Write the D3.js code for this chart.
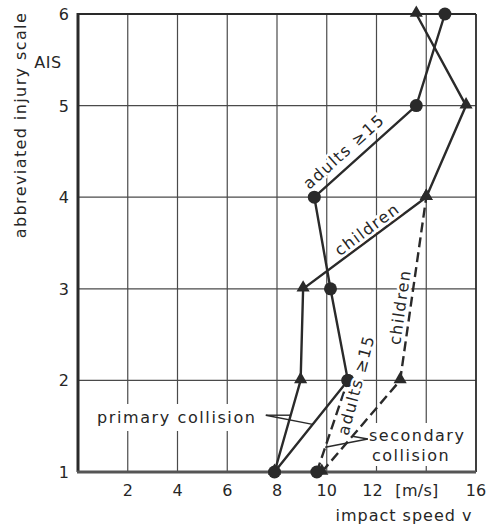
<!DOCTYPE html>
<html>
<head>
<meta charset="utf-8">
<script src="https://cdn.jsdelivr.net/npm/d3@7"></script>
<style>
  body { margin: 0; background: #fff; }
  svg text { font-family: "DejaVu Sans", sans-serif; fill: #262626; }
</style>
</head>
<body>
<svg id="chart" width="488" height="530"></svg>
<script>
// AIS levels on the y axis, impact speed [m/s] on the x axis
var aisLevels = [1, 2, 3, 4, 5, 6];
var adultsPrimary = [7.9, 10.85, 10.15, 9.5, 13.6, 14.75];
var childrenPrimary = [7.9, 8.95, 9.05, 14.0, 15.6, 13.6];
var adultsSecondaryAis = [1, 2];
var adultsSecondary = [9.6, 10.85];
var childrenSecondaryAis = [1, 2, 4];
var childrenSecondary = [9.8, 12.95, 14.0];
var xTicks = [2, 4, 6, 8, 10, 12, 16];
var yTicks = [1, 2, 3, 4, 5, 6];
var xGrid = [2, 4, 6, 8, 10, 12, 14];
var yGrid = [2, 3, 4, 5];

var ink = "#2a2a2a";
var svg = d3.select("#chart");

var x = d3.scaleLinear().domain([0, 16]).range([78, 476]);
var y = d3.scaleLinear().domain([1, 6]).range([472, 14]);

function zip(vs, as) {
	return vs.map(function(v, i) { return {v: v, ais: as[i]}; });
}
// point on a polyline at a given ais level
function at(series, ais) {
	for (var i = 0; i < series.length - 1; i++) {
		var a = series[i], b = series[i + 1];
		if (ais >= a.ais && ais <= b.ais) {
			var t = (ais - a.ais) / (b.ais - a.ais);
			return {v: a.v + t * (b.v - a.v), ais: ais};
		}
	}
	return series[0];
}

var ap = zip(adultsPrimary, aisLevels);
var cp = zip(childrenPrimary, aisLevels);
var as = zip(adultsSecondary, adultsSecondaryAis);
var cs = zip(childrenSecondary, childrenSecondaryAis);

// grid
svg.selectAll("line.vgrid").data(xGrid).enter().append("line")
	.attr("x1", function(d) { return x(d); }).attr("x2", function(d) { return x(d); })
	.attr("y1", y(6)).attr("y2", y(1))
	.style("stroke", "#4a4a4a").style("stroke-width", 1.2);
svg.selectAll("line.hgrid").data(yGrid).enter().append("line")
	.attr("y1", function(d) { return y(d); }).attr("y2", function(d) { return y(d); })
	.attr("x1", x(0)).attr("x2", x(16))
	.style("stroke", "#4a4a4a").style("stroke-width", 1.2);

// frame
svg.append("line").attr("x1", x(0)).attr("x2", x(16)).attr("y1", y(6)).attr("y2", y(6))
	.style("stroke", ink).style("stroke-width", 1.8);
svg.append("line").attr("x1", x(16)).attr("x2", x(16)).attr("y1", y(6)).attr("y2", y(1))
	.style("stroke", ink).style("stroke-width", 1.8);
svg.append("line").attr("x1", x(0)).attr("x2", x(0)).attr("y1", y(6) - 1).attr("y2", y(1))
	.style("stroke", ink).style("stroke-width", 3);
svg.append("line").attr("x1", x(0) - 1).attr("x2", x(16)).attr("y1", y(1)).attr("y2", y(1))
	.style("stroke", "#555").style("stroke-width", 3.2);

function label(txt, px, py, size, spacing, anchor) {
	return svg.append("text").attr("x", px).attr("y", py)
		.attr("text-anchor", anchor || "start")
		.style("font-size", size + "px").style("letter-spacing", spacing + "px")
		.text(txt);
}

// white patches behind the two collision labels
var primLab = label("primary collision", 97, 423, 16, 1.6);
var bb = primLab.node().getBBox();
svg.insert("rect", "text").attr("x", bb.x - 3).attr("y", bb.y - 4)
	.attr("width", bb.width + 6).attr("height", bb.height + 8).style("fill", "#fff");

var secLab1 = label("secondary", 369, 441, 16, 1.5);
var secLab2 = label("collision", 372, 461, 16, 1.5);
var b1 = secLab1.node().getBBox(), b2 = secLab2.node().getBBox();
svg.insert("rect", "text").attr("x", b1.x - 3).attr("y", b1.y - 3)
	.attr("width", b1.width + 6).attr("height", b2.y + b2.height - b1.y + 4).style("fill", "#fff");

// series lines
var line = d3.line().x(function(d) { return x(d.v); }).y(function(d) { return y(d.ais); });
[cp, ap].forEach(function(s) {
	svg.append("path").attr("d", line(s)).style("fill", "none")
		.style("stroke", ink).style("stroke-width", 2.4);
});
[cs, as].forEach(function(s) {
	svg.append("path").attr("d", line(s)).style("fill", "none")
		.style("stroke", ink).style("stroke-width", 2.4).style("stroke-dasharray", "10,5");
});

// leader lines
function leader(apex, targets) {
	targets.forEach(function(t) {
		svg.append("line").attr("x1", x(apex.v)).attr("y1", y(apex.ais))
			.attr("x2", x(t.v)).attr("y2", y(t.ais))
			.style("stroke", ink).style("stroke-width", 1.4);
	});
}
leader({v: 7.55, ais: 1.62}, [at(cp, 1.62), at(ap, 1.52)]);
leader({v: 11.65, ais: 1.36}, [at(cs, 1.39), at(as, 1.27)]);

// markers
var tri = d3.symbol().type(d3.symbolTriangle).size(75);
svg.selectAll("path.tri").data(cp.concat(cs)).enter().append("path")
	.attr("d", tri)
	.attr("transform", function(d) { return "translate(" + x(d.v) + "," + (y(d.ais) - 1) + ")"; })
	.style("fill", ink);
svg.selectAll("circle.dot").data(ap.concat(as)).enter().append("circle")
	.attr("cx", function(d) { return x(d.v); })
	.attr("cy", function(d) { return y(d.ais); })
	.attr("r", 6.5)
	.style("fill", ink);

// rotated series labels with a white halo
function tag(txt, pos, angle, size) {
	svg.append("text")
		.attr("transform", "translate(" + x(pos.v) + "," + y(pos.ais) + ") rotate(" + angle + ")")
		.attr("text-anchor", "middle").attr("dy", "0.35em")
		.style("font-size", size + "px").style("letter-spacing", "1.5px")
		.style("stroke", "#fff").style("stroke-width", 5).style("paint-order", "stroke")
		.text(txt);
}
function slope(a, b) {
	return Math.atan2(y(b.ais) - y(a.ais), x(b.v) - x(a.v)) * 180 / Math.PI;
}
tag("adults \u226515", {v: 10.69, ais: 4.5}, slope(ap[3], ap[4]), 16);
tag("children", {v: 11.62, ais: 3.65}, slope(cp[2], cp[3]), 16);
tag("children", {v: 12.94, ais: 2.8}, slope(cs[1], cs[2]), 16);
tag("adults \u226515", {v: 11.18, ais: 1.95}, -75, 16);

// tick labels
svg.selectAll("text.ytick").data(yTicks).enter().append("text")
	.attr("x", 69).attr("y", function(d) { return y(d); }).attr("dy", "0.37em")
	.attr("text-anchor", "end").style("font-size", "16px")
	.text(function(d) { return d; });
svg.selectAll("text.xtick").data(xTicks).enter().append("text")
	.attr("x", function(d) { return x(d) - (d === 12 ? 4 : 0); }).attr("y", 496)
	.attr("text-anchor", "middle").style("font-size", "16px")
	.text(function(d) { return d; });
label("[m/s]", 417, 496, 16, 0.3, "middle");

// axis titles
label("impact  speed  v", 404, 521, 16, 1, "middle");
label("AIS", 48, 68, 16, 0.5, "middle");
svg.append("text").attr("transform", "translate(26,125) rotate(-90)")
	.attr("text-anchor", "middle").style("font-size", "16px").style("letter-spacing", "1.4px")
	.text("abbreviated injury scale");
</script>
</body>
</html>
